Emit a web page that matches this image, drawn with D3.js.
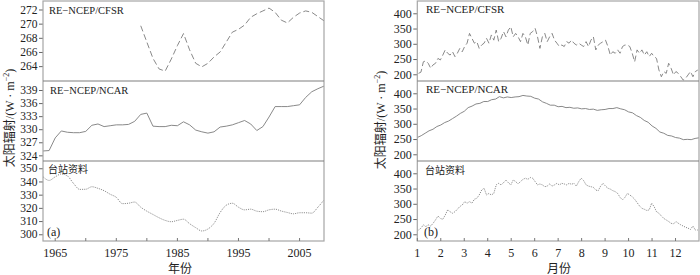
<!DOCTYPE html>
<html><head><meta charset="utf-8">
<script src="https://cdn.jsdelivr.net/npm/d3@7"></script>
<style>body{margin:0;background:#fff}svg{display:block}</style>
</head><body><svg id="c" width="700" height="275"></svg>
<script>
// ---------- DATA ----------
const startYear = 1963, endYear = 2009;
const years = d3.range(startYear, endYear + 1);
const ncarAnnual = [
  325.0, 325.1, 328.0, 329.6, 329.3, 329.2, 329.2, 329.5, 330.9, 331.2,
  330.6, 330.8, 331.0, 331.0, 331.1, 331.8, 333.4, 333.7, 330.7, 330.6,
  330.6, 330.9, 330.8, 331.7, 331.0, 329.8, 329.4, 329.1, 329.4, 330.5,
  330.7, 331.0, 331.5, 332.0, 331.2, 329.7, 330.6, 332.8, 335.2, 335.2,
  335.2, 335.4, 335.6, 337.3, 338.6, 339.3, 339.9
];
const cfsrYears = d3.range(1979, endYear + 1);
const cfsrAnnual = [
  269.7, 267.4, 265.1, 263.6, 263.3, 265.0, 266.9, 268.6, 266.3, 264.4,
  263.9, 264.4, 265.3, 266.0, 267.4, 268.8, 269.2, 269.8, 270.9, 271.4,
  271.8, 272.2, 271.6, 270.5, 270.1, 270.9, 271.5, 271.8, 271.6, 271.0,
  270.4
];
const stationAnnual = [
  343.6, 340.8, 343.5, 345.7, 344.2, 338.5, 334.0, 334.1, 336.0, 334.8,
  333.0, 330.3, 328.0, 323.2, 323.5, 324.4, 320.5, 317.5, 315.0, 312.5,
  310.5, 309.5, 310.5, 311.4, 308.0, 305.0, 302.5, 304.0, 308.3, 316.5,
  322.0, 323.5, 320.5, 318.5, 319.0, 317.5, 317.1, 318.5, 319.0, 317.6,
  316.5, 315.5, 316.3, 316.3, 316.0, 320.5, 326.0
];
// annual-cycle series (evenly spaced through the year, month 1 .. 13)
const cfsrDaily = [
  203, 207, 241, 244, 236, 220, 231, 236, 252, 247,
  263, 280, 269, 263, 274, 258, 269, 285, 274, 291,
  302, 334, 318, 302, 307, 285, 296, 302, 318, 302,
  329, 312, 345, 307, 318, 340, 323, 345, 356, 323,
  334, 323, 307, 334, 323, 296, 334, 340, 351, 323,
  285, 323, 334, 307, 323, 334, 312, 302, 291, 296,
  291, 307, 302, 312, 302, 296, 302, 296, 291, 307,
  291, 312, 323, 280, 296, 302, 307, 312, 291, 263,
  274, 269, 280, 269, 291, 296, 296, 291, 269, 241,
  280, 269, 280, 263, 274, 258, 269, 258, 252, 214,
  192, 209, 203, 236, 220, 198, 209, 203, 192, 181,
  187, 198, 209, 192, 209, 214
];
const ncarDaily = [
  255, 261, 269, 277, 282, 291, 296, 304, 309, 317,
  325, 334, 341, 353, 358, 365, 367, 373, 373, 379,
  381, 389, 385, 388, 386, 388, 389, 393, 391, 390,
  384, 381, 372, 367, 361, 361, 356, 357, 353, 354,
  351, 352, 349, 350, 347, 348, 344, 346, 347, 350,
  350, 353, 349, 346, 339, 336, 327, 321, 311, 305,
  293, 285, 273, 269, 262, 260, 255, 253, 248, 249,
  248, 252, 254
];
const stationDaily = [
  214, 220, 231, 225, 231, 227, 236, 247, 260, 252,
  249, 263, 280, 274, 269, 274, 282, 291, 296, 307,
  302, 307, 302, 315, 318, 329, 345, 351, 329, 334,
  329, 334, 362, 367, 362, 369, 378, 369, 362, 378,
  373, 365, 373, 380, 384, 380, 386, 384, 373, 362,
  365, 362, 356, 358, 365, 358, 362, 367, 362, 367,
  365, 362, 367, 364, 367, 358, 373, 384, 376, 362,
  358, 356, 354, 345, 343, 358, 367, 358, 351, 348,
  343, 340, 334, 321, 313, 321, 334, 329, 323, 315,
  304, 293, 285, 282, 278, 280, 302, 291, 274, 269,
  260, 252, 247, 242, 236, 234, 242, 236, 231, 227,
  223, 220, 216, 227, 214, 214
];
const yearTickLabels = [1965, 1975, 1985, 1995, 2005];
const yearMinorTicks = [1970, 1980, 1990, 2000];
const monthTicks = [1, 2, 3, 4, 5, 6, 7, 8, 9, 10, 11, 12];
const leftPanelTicks = [[264, 266, 268, 270, 272], [324, 327, 330, 333, 336, 339], [300, 310, 320, 330, 340, 350]];
const leftPanelDomains = [[261.9, 273.2], [322.7, 341.07], [294.9, 355.5]];
const rightPanelTicks = [200, 250, 300, 350, 400];
const rightPanelDomain = [178, 440.3];
const panelNames = ["RE\u2212NCEP/CFSR", "RE\u2212NCEP/NCAR", "台站资料"];

// ---------- DRAW ----------
const svg = d3.select("#c");
const serif = "'Liberation Serif','DejaVu Serif',serif";
const cjk = "'Noto Sans CJK SC','Noto Sans',sans-serif";
const lineCol = "#7c7c7c", frameCol = "#a6a6a6", divCol = "#7e7e7e", txt = "#222";
const tops = [1, 81, 161], panelH = 80, bottom = 241;
const styles = [
  {dash: "6,3", w: 0.9},
  {dash: null, w: 0.9},
  {dash: "1.1,1.1", w: 0.9}
];

function drawChart(opts) {
  const g = svg.append("g");
  const x = opts.x;
  const [x0, x1] = x.range();
  tops.forEach((t, i) => {
    const y = d3.scaleLinear().domain(opts.domains[i]).range([t + panelH, t]);
    const ax = g.append("g").attr("transform", `translate(${x0},0)`)
      .call(d3.axisLeft(y).tickValues(opts.ticks[i]).tickSize(4).tickPadding(1.5).tickFormat(d3.format("d")));
    ax.select(".domain").remove();
    ax.selectAll("line").attr("stroke", "#666");
    ax.selectAll("text").attr("font-family", serif).attr("font-size", opts.yFont)
      .attr("fill", txt);
    const s = opts.series[i];
    const path = g.append("path").datum(s.values.map((v, k) => [s.xs[k], v]))
      .attr("fill", "none").attr("stroke", lineCol).attr("stroke-width", styles[i].w)
      .attr("d", d3.line().x(d => x(d[0])).y(d => y(d[1])).curve(s.curve || d3.curveLinear));
    if (styles[i].dash) path.attr("stroke-dasharray", styles[i].dash);
    const lab = g.append("text").attr("x", opts.labX[i]).attr("y", opts.labY[i]).attr("fill", txt)
      .text(panelNames[i]);
    if (i < 2) lab.attr("font-family", serif).attr("font-size", opts.labFont);
    else lab.attr("font-family", cjk).attr("font-size", 10);
  });
  g.append("rect").attr("x", x0).attr("y", tops[0]).attr("width", x1 - x0).attr("height", bottom - tops[0])
    .attr("fill", "none").attr("stroke", frameCol).attr("stroke-width", 1.2);
  [tops[1], tops[2]].forEach(t => g.append("line").attr("x1", x0).attr("x2", x1).attr("y1", t).attr("y2", t)
    .attr("stroke", divCol).attr("stroke-width", 1.2));
  opts.xTicks.forEach(v => g.append("line").attr("x1", x(v)).attr("x2", x(v)).attr("y1", bottom).attr("y2", bottom - 3)
    .attr("stroke", "#777"));
  opts.xLabels.forEach(v => g.append("text").attr("x", x(v)).attr("y", 256.5).attr("text-anchor", "middle")
    .attr("font-family", serif).attr("font-size", 12).attr("fill", txt).text(v));
  g.append("text").attr("x", opts.xTitleX).attr("y", 273).attr("text-anchor", "middle")
    .attr("font-family", cjk).attr("font-size", 12).attr("fill", txt).text(opts.xTitle);
  const yt = g.append("text").attr("transform", `translate(${opts.yTitleX},${opts.yTitleY}) rotate(-90)`)
    .attr("text-anchor", "middle").attr("fill", txt).attr("font-size", 12);
  yt.append("tspan").attr("font-family", cjk).text("太阳辐射");
  yt.append("tspan").attr("font-family", serif).text("/(W · m");
  yt.append("tspan").attr("font-family", serif).attr("font-size", 8).attr("dy", -5).text("\u22122");
  yt.append("tspan").attr("font-family", serif).attr("dy", 5).text(")");
  g.append("text").attr("x", opts.tagX).attr("y", 235.5).attr("font-family", serif).attr("font-size", 12)
    .attr("fill", txt).text(opts.tag);
}

const xYear = d3.scaleLinear().domain([startYear, endYear]).range([43, 324]);
drawChart({
  x: xYear,
  domains: leftPanelDomains,
  ticks: leftPanelTicks,
  yFont: 11.5,
  labFont: 10.5,
  series: [
    {xs: cfsrYears, values: cfsrAnnual},
    {xs: years, values: ncarAnnual},
    {xs: years, values: stationAnnual, curve: d3.curveMonotoneX}
  ],
  labX: [49, 50, 48], labY: [13.8, 93.5, 173],
  xTicks: yearTickLabels.concat(yearMinorTicks), xLabels: yearTickLabels,
  xTitle: "年份", xTitleX: 180,
  yTitleX: 13.5, yTitleY: 118,
  tag: "(a)", tagX: 47
});

const xMonth = d3.scaleLinear().domain([1, 13]).range([417.3, 699]);
const spread = arr => arr.map((_, k) => 1 + 12 * (k + 0.5) / arr.length);
const spreadEnds = arr => arr.map((_, k) => 1 + 12 * k / (arr.length - 1));
drawChart({
  x: xMonth,
  domains: [rightPanelDomain, rightPanelDomain, rightPanelDomain],
  ticks: [rightPanelTicks, rightPanelTicks, rightPanelTicks],
  yFont: 12,
  labFont: 11,
  series: [
    {xs: spread(cfsrDaily), values: cfsrDaily},
    {xs: spreadEnds(ncarDaily), values: ncarDaily},
    {xs: spread(stationDaily), values: stationDaily}
  ],
  labX: [426, 426, 425], labY: [13.3, 92.8, 174],
  xTicks: monthTicks, xLabels: monthTicks,
  xTitle: "月份", xTitleX: 559,
  yTitleX: 384.5, yTitleY: 120,
  tag: "(b)", tagX: 424
});
</script></body></html>
